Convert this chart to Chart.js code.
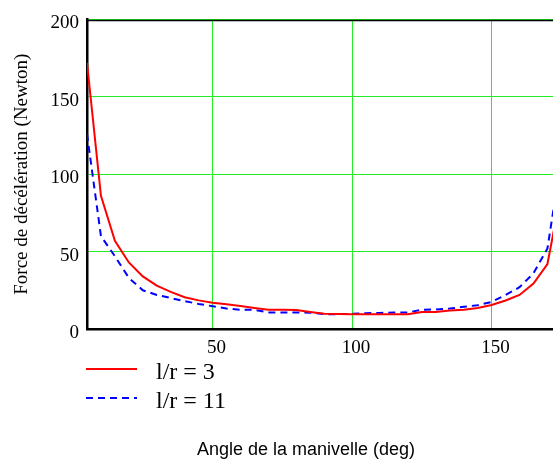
<!DOCTYPE html>
<html><head><meta charset="utf-8">
<script src="https://cdn.jsdelivr.net/npm/chart.js@4.4.0/dist/chart.umd.min.js"></script>
<style>html,body{margin:0;padding:0;background:#fff;overflow:hidden}#wrap{width:553px;height:461px;position:relative}</style>
</head><body><div id="wrap"><canvas id="c"></canvas></div>
<script>
const angles = [5,10,15,20,25,30,35,40,45,50,55,60,65,70,75,80,85,90,95,100,105,110,115,120,125,130,135,140,145,150,155,160,165,170,175];
const forceR3 = [172,86,57,43,34,28,24,20.5,18.5,17,16,14.8,13.6,12.5,12.4,12.2,11,9.8,9.7,9.6,9.6,9.6,9.6,9.6,11,11,12,12.4,13.6,15.5,18.4,22,29.4,42,89];
const forceR11 = [126,60,47,33,25,22,20,18,16.2,14.7,13.2,12.4,12.4,10.7,10.7,10.7,10.5,9.6,9.6,9.8,10.2,10.4,10.6,10.7,12.4,12.6,13.2,14.3,15.4,17.5,22,27,36,52,110];
const xTicks = [50,100,150];
const yTicks = [0,50,100,150,200];
const seriesLabels = ['l/r = 3','l/r = 11'];
const xTitle = 'Angle de la manivelle (deg)';
const yTitle = 'Force de décélération (Newton)';

const GRID = '#22ee22';
const serif = '"Liberation Serif", "Times New Roman", serif';

const decor = {
  id: 'decor',
  afterDraw(chart) {
    const {ctx, chartArea: a} = chart;
    ctx.save();
    ctx.strokeStyle = '#000'; ctx.lineWidth = 1.5;
    ctx.beginPath(); ctx.moveTo(a.left, a.top + 1); ctx.lineTo(a.right, a.top + 1); ctx.stroke();
    chart.data.datasets.forEach((ds, i) => {
      const y = a.bottom + 40 + i * 29;
      ctx.strokeStyle = ds.borderColor; ctx.lineWidth = ds.borderWidth;
      ctx.setLineDash(ds.borderDash || []);
      ctx.beginPath(); ctx.moveTo(a.left - 1, y); ctx.lineTo(a.left + 50, y); ctx.stroke();
      ctx.setLineDash([]);
      ctx.fillStyle = '#000'; ctx.font = '24px ' + serif;
      ctx.textBaseline = 'middle'; ctx.textAlign = 'left';
      ctx.fillText(ds.label, a.left + 69, y + 4);
    });
    ctx.font = '18px "Liberation Sans", Arial, sans-serif';
    ctx.textAlign = 'center'; ctx.textBaseline = 'middle'; ctx.fillStyle = '#000';
    ctx.fillText(xTitle, a.left + 219, chart.height - 11);
    ctx.restore();
  }
};

new Chart(document.getElementById('c'), {
  type: 'line',
  data: {
    labels: angles,
    datasets: [
      {label: seriesLabels[0], data: angles.map((a,i)=>({x:a,y:forceR3[i]})), borderColor:'#ff0000', borderWidth:2, pointRadius:0, tension:0, fill:false},
      {label: seriesLabels[1], data: angles.map((a,i)=>({x:a,y:forceR11[i]})), borderColor:'#0000ff', borderWidth:2, borderDash:[7,5], pointRadius:0, tension:0, fill:false}
    ]
  },
  options: {
    responsive: true, maintainAspectRatio: false, animation: false,
    layout: {padding: {top: 16, left: 0, right: 0, bottom: 0}},
    plugins: {legend: {display:false}, tooltip: {enabled:false}},
    scales: {
      x: {
        type: 'linear', min: 5, max: 172,
        afterBuildTicks: s => { s.ticks = xTicks.map(v => ({value: v})); },
        afterFit: s => { s.height = 132; },
        grid: {color: GRID, lineWidth: 1, drawTicks: false},
        border: {color: '#000', width: 2.5},
        ticks: {color: '#000', font: {family: serif, size: 19}, padding: 8, maxRotation: 0, labelOffset: 4}
      },
      y: {
        type: 'linear', min: 0, max: 200,
        afterBuildTicks: s => { s.ticks = yTicks.map(v => ({value: v})); },
        afterFit: s => { s.width = 87; },
        grid: {color: GRID, lineWidth: 1, drawTicks: false},
        border: {color: '#000', width: 2.5},
        ticks: {color: '#000', font: {family: serif, size: 19}, padding: 8, labelOffset: 4},
        title: {display: true, text: yTitle, color: '#000', font: {family: serif, size: 19}, padding: {top: 11, bottom: 0}}
      }
    }
  },
  plugins: [decor]
});
</script>
</body></html>
